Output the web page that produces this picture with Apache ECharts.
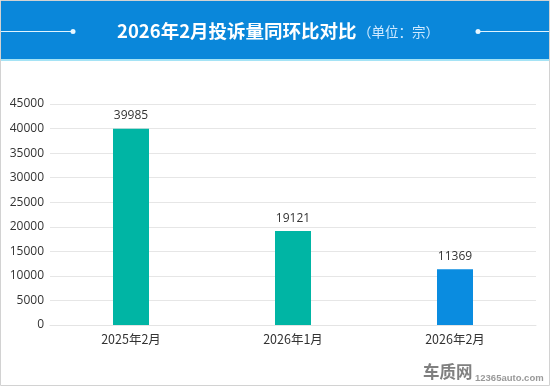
<!DOCTYPE html>
<html><head><meta charset="utf-8">
<style>html,body{margin:0;padding:0;background:#fff}#c{width:550px;height:386px}</style>
<script src="https://cdn.jsdelivr.net/npm/echarts@6/dist/echarts.min.js"></script>
</head><body><div id="c"></div>
<script>
const categories = ['2025年2月','2026年1月','2026年2月'];
const values = [39985,19121,11369];
const barColors = ['#00b5a4','#00b5a4','#0a8ce0'];
const titleMain = '2026年2月投诉量同环比对比';
const titleUnit = '（单位：宗）';
const font = '"Noto Sans CJK SC","Noto Sans",sans-serif';
const chart = echarts.init(document.getElementById('c'),null,{renderer:'canvas'});
chart.setOption({
  animation:false,
  backgroundColor:'#fff',
  textStyle:{fontFamily:font},
  grid:{left:50,right:14,top:104,height:221},
  xAxis:{type:'category',data:categories,
    axisLine:{lineStyle:{color:'#e4e4e4',width:1}},axisTick:{show:false},
    axisLabel:{color:'#333',fontSize:12.5,margin:8,fontFamily:font}},
  yAxis:{type:'value',min:0,max:45000,interval:5000,
    axisLine:{show:false},axisTick:{show:false},
    axisLabel:{color:'#333',fontSize:12,margin:6,formatter:v=>String(v),fontFamily:'"Open Sans",sans-serif'},
    splitLine:{lineStyle:{color:'#e6e6e6',width:1}}},
  series:[{type:'bar',barWidth:36,
    data:values.map((v,i)=>({value:v,itemStyle:{color:barColors[i]}})),
    label:{show:true,position:'top',distance:7,color:'#333',fontSize:12,fontFamily:'"Open Sans",sans-serif'}}],
  graphic:[
    {type:'rect',silent:true,z:-1,shape:{x:0.5,y:0.5,width:549,height:385},style:{fill:'#fff',stroke:'#d2d2d2',lineWidth:1}},
    {type:'rect',silent:true,shape:{x:1,y:1,width:548,height:58},style:{fill:'#0a87da'}},
    {type:'rect',silent:true,shape:{x:1,y:59,width:548,height:2},style:{fill:'#a5e3f5'}},
    {type:'line',silent:true,shape:{x1:1,y1:31.5,x2:73,y2:31.5},style:{stroke:'#dff4ff',lineWidth:1}},
    {type:'circle',silent:true,shape:{cx:73,cy:31.5,r:2.5},style:{fill:'#e8f7ff'}},
    {type:'line',silent:true,shape:{x1:478,y1:31.5,x2:549,y2:31.5},style:{stroke:'#dff4ff',lineWidth:1}},
    {type:'circle',silent:true,shape:{cx:478,cy:31.5,r:2.5},style:{fill:'#e8f7ff'}},
    {type:'text',silent:true,x:117,y:31,style:{text:titleMain,fill:'#fff',font:'bold 18.5px '+font,textVerticalAlign:'middle'}},
    {type:'text',silent:true,x:358,y:32,style:{text:titleUnit,fill:'#cfeaff',font:'13.5px '+font,textVerticalAlign:'middle'}},
    {type:'text',silent:true,x:423,y:372,style:{text:'车质网',fill:'#808080',font:'bold 16.5px '+font,textVerticalAlign:'middle'}},
    {type:'text',silent:true,x:475,y:378,style:{text:'12365auto.com',fill:'#999',font:'bold 9.5px "Liberation Sans",sans-serif',textVerticalAlign:'middle'}}
  ]
});
</script></body></html>
